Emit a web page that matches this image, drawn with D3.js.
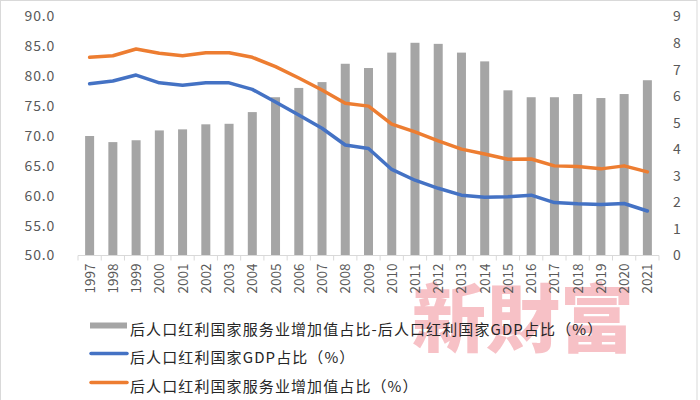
<!DOCTYPE html>
<html>
<head>
<meta charset="utf-8">
<script src="https://cdn.jsdelivr.net/npm/d3@7"></script>
<style>
  html, body { margin: 0; padding: 0; background: #fff; }
  svg { display: block; }
</style>
</head>
<body>
<div id="chart"></div>
<script>
const years = ["1997","1998","1999","2000","2001","2002","2003","2004","2005","2006","2007","2008","2009","2010","2011","2012","2013","2014","2015","2016","2017","2018","2019","2020","2021"];
const diffValues = [4.50,4.27,4.34,4.71,4.75,4.94,4.96,5.40,5.96,6.31,6.53,7.22,7.06,7.64,8.01,7.97,7.64,7.31,6.22,5.96,5.96,6.08,5.93,6.08,6.60];
const gdpShare = [78.75,79.2,80.2,78.9,78.5,78.9,78.9,77.8,75.7,73.5,71.3,68.5,67.9,64.4,62.6,61.25,60.1,59.75,59.85,60.1,58.85,58.65,58.55,58.7,57.45];
const serviceShare = [83.17,83.44,84.56,83.84,83.44,83.94,83.94,83.17,81.6,79.7,77.7,75.47,75.0,72.0,70.7,69.2,67.8,67.0,66.1,66.15,65.0,64.9,64.5,65.0,64.0];
const leftTicks = [50,55,60,65,70,75,80,85,90];
const rightTicks = [0,1,2,3,4,5,6,7,8,9];
const legendLabels = [
  "后人口红利国家服务业增加值占比-后人口红利国家GDP占比（%）",
  "后人口红利国家GDP占比（%）",
  "后人口红利国家服务业增加值占比（%）"
];
const watermark = "新財富";

const W = 700, H = 400;
const font = "'Noto Sans CJK SC', 'Noto Sans', sans-serif";
const svg = d3.select("#chart").append("svg").attr("width", W).attr("height", H)
  .style("font-family", font);

// chart border
svg.append("rect").attr("x", 0.5).attr("y", 0.5).attr("width", 696.5).attr("height", 420)
  .attr("fill", "none").attr("stroke", "#d9d9d9");

const x = d3.scaleBand().domain(years).range([78, 659]).padding(0);
const yL = d3.scaleLinear().domain([50, 90]).range([255.5, 16.5]);
const yR = d3.scaleLinear().domain([0, 9]).range([255.5, 16.5]);

// watermark
svg.append("text").attr("x", 523).attr("y", 346).attr("text-anchor", "middle")
  .attr("font-family", "'Noto Sans CJK TC', sans-serif").attr("font-weight", 900)
  .attr("font-size", 74).attr("fill", "#f3a6ae").attr("fill-opacity", 0.7)
  .text(watermark);

// bars
const barW = 9;
svg.append("g").selectAll("rect").data(years).join("rect")
  .attr("x", d => x(d) + x.bandwidth() / 2 - barW / 2)
  .attr("width", barW)
  .attr("y", (d, i) => yR(diffValues[i]))
  .attr("height", (d, i) => yR(0) - yR(diffValues[i]))
  .attr("fill", "#a5a5a5");

// x axis
const xAxis = svg.append("g").attr("transform", `translate(0,${yR(0)})`);
xAxis.append("line").attr("x1", x.range()[0]).attr("x2", x.range()[1])
  .attr("stroke", "#d9d9d9").attr("stroke-width", 1);
const bounds = years.map(d => x(d)).concat([x.range()[1]]);
xAxis.selectAll("line.tk").data(bounds).join("line").attr("class", "tk")
  .attr("x1", d => d).attr("x2", d => d).attr("y1", 0).attr("y2", 5)
  .attr("stroke", "#d9d9d9");
xAxis.selectAll("text").data(years).join("text")
  .attr("transform", d => `translate(${x(d) + x.bandwidth() / 2 + 5},8) rotate(-90)`)
  .attr("text-anchor", "end")
  .attr("font-size", 13.5).attr("fill", "#595959")
  .text(d => d);

// left axis labels
svg.append("g").selectAll("text").data(leftTicks).join("text")
  .attr("x", 55).attr("y", d => yL(d)).attr("dy", "0.35em")
  .attr("text-anchor", "end").attr("font-size", 14).attr("fill", "#595959")
  .attr("letter-spacing", 0.8)
  .text(d => d3.format(".1f")(d));

// right axis labels
svg.append("g").selectAll("text").data(rightTicks).join("text")
  .attr("x", 673).attr("y", d => yR(d)).attr("dy", "0.35em")
  .attr("text-anchor", "start").attr("font-size", 14).attr("fill", "#595959")
  .text(d => d);

// lines
const line = d3.line().x((d, i) => x(years[i]) + x.bandwidth() / 2).y(d => yL(d));
svg.append("path").datum(gdpShare).attr("d", line)
  .attr("fill", "none").attr("stroke", "#4472c4").attr("stroke-width", 3.5)
  .attr("stroke-linejoin", "round").attr("stroke-linecap", "round");
svg.append("path").datum(serviceShare).attr("d", line)
  .attr("fill", "none").attr("stroke", "#ed7d31").attr("stroke-width", 3.5)
  .attr("stroke-linejoin", "round").attr("stroke-linecap", "round");

// legend
const lg = svg.append("g");
const symY = [325.5, 353.5, 382.5];
const textY = [330, 357.5, 386.5];
lg.append("rect").attr("x", 90).attr("y", symY[0] - 3).attr("width", 37).attr("height", 6).attr("fill", "#a5a5a5");
lg.append("line").attr("x1", 91).attr("x2", 127).attr("y1", symY[1]).attr("y2", symY[1])
  .attr("stroke", "#4472c4").attr("stroke-width", 3.5).attr("stroke-linecap", "round");
lg.append("line").attr("x1", 91).attr("x2", 127).attr("y1", symY[2]).attr("y2", symY[2])
  .attr("stroke", "#ed7d31").attr("stroke-width", 3.5).attr("stroke-linecap", "round");
lg.selectAll("text").data(legendLabels).join("text")
  .attr("x", 130).attr("y", (d, i) => textY[i]).attr("dy", "0.35em")
  .attr("font-size", 15).attr("letter-spacing", 1.1).attr("fill", "#262626")
  .text(d => d);
</script>
</body>
</html>
